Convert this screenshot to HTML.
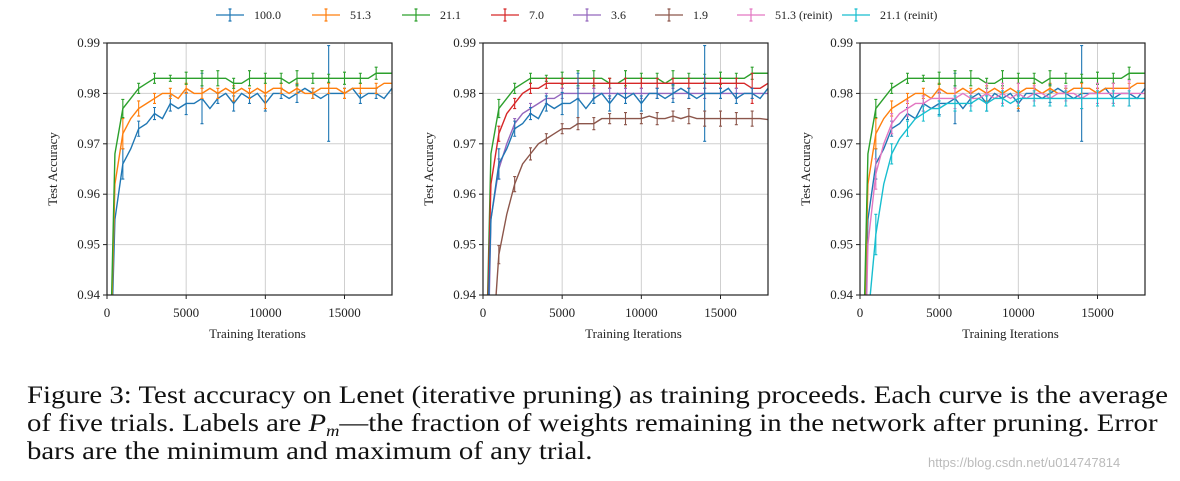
<!DOCTYPE html>
<html style="overflow:hidden;width:1180px;height:481px"><head><meta charset="utf-8"><style>
body{margin:0;background:#fff;width:1180px;height:481px;overflow:hidden;position:relative;font-family:"Liberation Serif",serif}
svg{position:absolute;left:0;top:0}
.cap{position:absolute;left:27px;font-size:25px;color:#111;white-space:nowrap;line-height:28px;height:28px;transform-origin:0 0;transform:scaleX(1.152);overflow:visible}
.cap sub{font-size:16px;line-height:0;position:relative;top:5px;vertical-align:baseline}
</style></head><body>
<svg id="fig" width="1180" height="370"></svg>
<div class="cap" style="top:382px">Figure 3: Test accuracy on Lenet (iterative pruning) as training proceeds. Each curve is the average</div>
<div class="cap" style="top:410px">of five trials. Labels are <i>P<sub>m</sub></i>—the fraction of weights remaining in the network after pruning. Error</div>
<div class="cap" style="top:438px">bars are the minimum and maximum of any trial.</div>
<div style="position:absolute;left:928px;top:455px;font-family:'Liberation Sans',sans-serif;font-size:13px;color:#bbb">https://blog.csdn.net/u014747814</div>
<script>
const xs=[0,500,1000,1500,2000,2500,3000,3500,4000,4500,5000,5500,6000,6500,7000,7500,8000,8500,9000,9500,10000,10500,11000,11500,12000,12500,13000,13500,14000,14500,15000,15500,16000,16500,17000,17500,18000];
const errX=[1000,2000,3000,4000,5000,6000,7000,8000,9000,10000,11000,12000,13000,14000,15000,16000,17000];
const yTicks=[0.94,0.95,0.96,0.97,0.98,0.99];
const xTicks=[0,5000,10000,15000];
const s100=[0.90,0.955,0.966,0.969,0.973,0.974,0.976,0.975,0.978,0.977,0.978,0.978,0.979,0.977,0.979,0.980,0.978,0.980,0.979,0.980,0.978,0.980,0.980,0.979,0.980,0.981,0.980,0.979,0.980,0.980,0.980,0.981,0.979,0.980,0.980,0.979,0.981];
const e100=[0.003,0.0015,0.0012,0.0015,0.0022,0.005,0.001,0.0015,0.001,0.0015,0.001,0.0018,0.001,0.0095,0.001,0.001,0.001];
const s51=[0.90,0.962,0.972,0.975,0.977,0.978,0.979,0.980,0.980,0.979,0.981,0.980,0.980,0.981,0.980,0.981,0.980,0.981,0.980,0.981,0.980,0.981,0.981,0.980,0.981,0.980,0.980,0.981,0.981,0.981,0.980,0.981,0.981,0.981,0.981,0.982,0.982];
const e51=[0.003,0.0015,0.001,0.001,0.001,0.001,0.001,0.0015,0.001,0.003,0.001,0.001,0.001,0.001,0.001,0.001,0.001];
const s21=[0.90,0.968,0.977,0.979,0.981,0.982,0.983,0.983,0.983,0.983,0.983,0.983,0.983,0.983,0.983,0.983,0.982,0.982,0.983,0.983,0.983,0.983,0.983,0.982,0.983,0.983,0.983,0.983,0.983,0.983,0.983,0.983,0.983,0.983,0.984,0.984,0.984];
const e21=[0.0018,0.001,0.001,0.0006,0.0012,0.0015,0.0015,0.001,0.0015,0.001,0.001,0.0015,0.001,0.0008,0.0012,0.001,0.0012];
const s7=[0.90,0.962,0.972,0.976,0.978,0.980,0.981,0.981,0.982,0.982,0.982,0.982,0.982,0.982,0.982,0.982,0.982,0.982,0.982,0.982,0.982,0.982,0.982,0.982,0.982,0.982,0.982,0.982,0.982,0.982,0.982,0.982,0.982,0.982,0.981,0.981,0.982];
const e7=[0.0015,0.001,0.001,0.001,0.001,0.001,0.001,0.001,0.001,0.001,0.001,0.001,0.001,0.001,0.001,0.001,0.003];
const s36=[0.88,0.955,0.965,0.970,0.974,0.976,0.977,0.978,0.979,0.979,0.980,0.980,0.980,0.980,0.980,0.980,0.980,0.980,0.980,0.980,0.980,0.980,0.980,0.980,0.980,0.980,0.980,0.980,0.980,0.980,0.980,0.980,0.980,0.980,0.980,0.980,0.980];
const e36=[0.002,0.001,0.001,0.001,0.001,0.001,0.001,0.001,0.001,0.001,0.001,0.001,0.001,0.001,0.001,0.001,0.001];
const s19=[0.85,0.925,0.948,0.956,0.962,0.966,0.968,0.970,0.971,0.972,0.973,0.973,0.974,0.974,0.974,0.975,0.975,0.975,0.975,0.975,0.975,0.9755,0.975,0.975,0.9755,0.975,0.9755,0.975,0.975,0.975,0.975,0.975,0.975,0.975,0.975,0.975,0.9748];
const e19=[0.0018,0.0015,0.0012,0.001,0.001,0.0012,0.0012,0.001,0.0012,0.001,0.0012,0.001,0.0015,0.0015,0.0015,0.0012,0.0015];
const s51r=[0.88,0.950,0.964,0.970,0.974,0.976,0.977,0.978,0.978,0.979,0.979,0.979,0.979,0.980,0.979,0.979,0.980,0.979,0.980,0.979,0.980,0.979,0.980,0.980,0.979,0.980,0.980,0.980,0.979,0.980,0.980,0.980,0.980,0.980,0.980,0.980,0.980];
const e51r=[0.003,0.002,0.0015,0.0015,0.0015,0.002,0.0015,0.002,0.002,0.002,0.0015,0.0015,0.0015,0.002,0.002,0.002,0.0025];
const s21r=[0.86,0.935,0.952,0.962,0.968,0.971,0.973,0.975,0.976,0.977,0.977,0.978,0.978,0.978,0.978,0.979,0.978,0.979,0.979,0.978,0.979,0.979,0.979,0.979,0.979,0.979,0.979,0.979,0.979,0.979,0.979,0.979,0.979,0.979,0.979,0.979,0.979];
const e21r=[0.004,0.002,0.0015,0.0015,0.0015,0.0015,0.0015,0.0015,0.0015,0.0015,0.0015,0.0015,0.0015,0.002,0.0015,0.0015,0.0015];
const C={b:'#1f77b4',o:'#ff7f0e',g:'#2ca02c',r:'#d62728',p:'#9467bd',br:'#8c564b',pk:'#e377c2',c:'#17becf'};
const series={b:[s100,e100],o:[s51,e51],g:[s21,e21],r:[s7,e7],p:[s36,e36],br:[s19,e19],pk:[s51r,e51r],c:[s21r,e21r]};
const panels=[{x0:107,keys:['b','o','g']},{x0:483,keys:['g','r','p','b','br']},{x0:860,keys:['b','o','g','pk','c']}];
const legend=[['b','100.0',216],['o','51.3',312],['g','21.1',402],['r','7.0',491],['p','3.6',573],['br','1.9',655],['pk','51.3 (reinit)',737],['c','21.1 (reinit)',842]];
const NS='http://www.w3.org/2000/svg',svg=document.getElementById('fig');
function mk(t,a,p){const e=document.createElementNS(NS,t);for(const k in a)e.setAttribute(k,a[k]);(p||svg).appendChild(e);return e;}
const W=285,T=43,B=295;
panels.forEach((P,pi)=>{
 const sx=v=>P.x0+v/18000*W, sy=v=>B-(v-0.94)/0.05*(B-T);
 const g=mk('g',{});
 const cp=mk('clipPath',{id:'cp'+pi},g);mk('rect',{x:P.x0,y:T,width:W,height:B-T},cp);
 yTicks.forEach(t=>{const y=sy(t);const l=mk('line',{x1:P.x0,x2:P.x0+W,y1:y,y2:y,stroke:'#cfcfcf','stroke-width':1},g);
  mk('line',{x1:P.x0-4,x2:P.x0,y1:y,y2:y,stroke:'#222'},g);
  const tx=mk('text',{x:P.x0-7,y:y+4,'text-anchor':'end','font-size':13,fill:'#222'},g);tx.textContent=t.toFixed(2);});
 xTicks.forEach(t=>{const x=sx(t);if(t>0){const l=mk('line',{x1:x,x2:x,y1:T,y2:B,stroke:'#cfcfcf'},g);}
  mk('line',{x1:x,x2:x,y1:B,y2:B+4,stroke:'#222'},g);
  const tx=mk('text',{x:x,y:B+22,'text-anchor':'middle','font-size':13,fill:'#222'},g);tx.textContent=t;});
 const dg=mk('g',{'clip-path':'url(#cp'+pi+')'},g);
 P.keys.forEach(k=>{const [v,e]=series[k];
  const pl=mk('polyline',{points:xs.map((x,i)=>sx(x)+','+sy(v[i])).join(' '),fill:'none',stroke:C[k],'stroke-width':1.4},dg);
  
  errX.forEach((x,j)=>{const i=xs.indexOf(x);const X=sx(x),y1=sy(v[i]-e[j]),y2=sy(v[i]+e[j]);
   const b=mk('path',{d:`M${X},${y1}V${y2}M${X-1.5},${y1}h3M${X-1.5},${y2}h3`,stroke:C[k],'stroke-width':1.1,fill:'none'},dg);
   });
 });
 const fr=mk('rect',{x:P.x0,y:T,width:W,height:B-T,fill:'none',stroke:'#222','stroke-width':1.2},g);
 const xl=mk('text',{x:P.x0+W/2+8,y:338,'text-anchor':'middle','font-size':13,fill:'#222'},g);xl.textContent='Training Iterations';
 const yl=mk('text',{x:0,y:0,'text-anchor':'middle','font-size':13,fill:'#222',transform:`translate(${P.x0-50},${(T+B)/2}) rotate(-90)`},g);yl.textContent='Test Accuracy';
});
legend.forEach(([k,lab,x])=>{const g=mk('g',{});
 mk('path',{d:`M${x},15h28M${x+14},9v12M${x+12.5},9h3M${x+12.5},21h3`,stroke:C[k],'stroke-width':1.2,fill:'none'},g);
 const t=mk('text',{x:x+38,y:19,'font-size':12,fill:'#222'},g);t.textContent=lab;});
</script>
</body></html>
